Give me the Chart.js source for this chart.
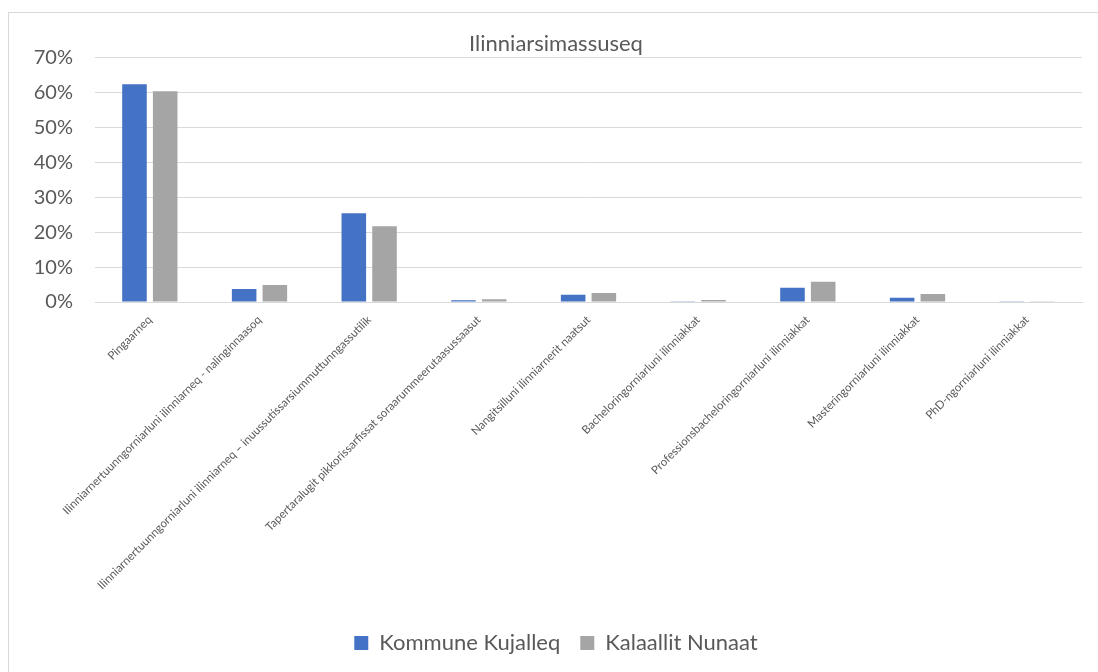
<!DOCTYPE html>
<html>
<head>
<meta charset="utf-8">
<script src="https://cdn.jsdelivr.net/npm/chart.js@4"></script>
<style>
  html, body { margin: 0; padding: 0; background: #fff; }
  #wrap { position: relative; width: 1098px; height: 672px; }
  #frame { position: absolute; left: 8px; top: 12px; width: 1200px; height: 800px; border: 1px solid #d9d9d9; box-sizing: border-box; }
  canvas { position: absolute; left: 0; top: 0; }
</style>
</head>
<body>
<div id="wrap">
  <div id="frame"></div>
  <canvas id="barChart" width="1098" height="672"></canvas>
</div>
<script>
const categories = [
    'Pingaarneq',
    'Ilinniarnertuunngorniarluni ilinniarneq - nalinginnaasoq',
    'Ilinniarnertuunngorniarluni ilinniarneq \u2013 inuussutissarsiummuttunngassutilik',
    'Tapertaralugit pikkorissarfissat soraarummeerutaasussaasut',
    'Nangitsilluni ilinniarnerit naatsut',
    'Bacheloringorniarluni ilinniakkat',
    'Professionsbacheloringorniarluni ilinniakkat',
    'Masteringorniarluni ilinniakkat',
    'PhD-ngorniarluni ilinniakkat'
];
const kommuneKujalleq = [62.3, 3.7, 25.4, 0.5, 2.1, 0.2, 4.1, 1.2, 0.05];
const kalaallitNunaat = [60.3, 4.9, 21.7, 0.8, 2.6, 0.6, 5.8, 2.3, 0.1];
const yTicks = [0, 10, 20, 30, 40, 50, 60, 70];

const ctx = document.getElementById('barChart');

new Chart(ctx, {
    type: 'bar',
    data: {
        labels: categories,
        datasets: [{
            label: 'Kommune Kujalleq',
            data: kommuneKujalleq,
            backgroundColor: '#4472C4'
        }, {
            label: 'Kalaallit Nunaat',
            data: kalaallitNunaat,
            backgroundColor: '#A5A5A5'
        }]
    },
    options: {
        responsive: false,
        animation: false,
        categoryPercentage: 0.56,
        barPercentage: 0.8,
        layout: {
            // left padding nudges title + legend right, like the reference
            padding: { top: 31, right: 16, bottom: 8, left: 30 }
        },
        plugins: {
            title: {
                display: true,
                text: 'Ilinniarsimassuseq',
                color: '#595959',
                font: { family: 'Lato', size: 22, weight: 'normal' },
                padding: 0
            },
            legend: {
                position: 'bottom',
                labels: {
                    color: '#595959',
                    font: { family: 'Lato', size: 22 },
                    boxWidth: 14,
                    boxHeight: 14,
                    padding: 20
                }
            },
            tooltip: { enabled: false }
        },
        scales: {
            x: {
                grid: { display: false },
                border: { color: '#d9d9d9' },
                ticks: {
                    color: '#595959',
                    font: { family: 'Lato', size: 11.5 },
                    minRotation: 45,
                    maxRotation: 45,
                    autoSkip: false
                },
                afterFit: (scale) => { scale.height = 310; }
            },
            y: {
                min: 0,
                max: 70,
                afterBuildTicks: (scale) => { scale.ticks = yTicks.map(v => ({ value: v })); },
                grid: { color: '#d9d9d9', drawTicks: false },
                border: { display: false },
                ticks: {
                    color: '#595959',
                    font: { family: 'Lato', size: 20 },
                    padding: 22,
                    callback: (v) => v + '%'
                },
                afterFit: (scale) => { scale.width = 65; }
            }
        }
    }
});
</script>
</body>
</html>
